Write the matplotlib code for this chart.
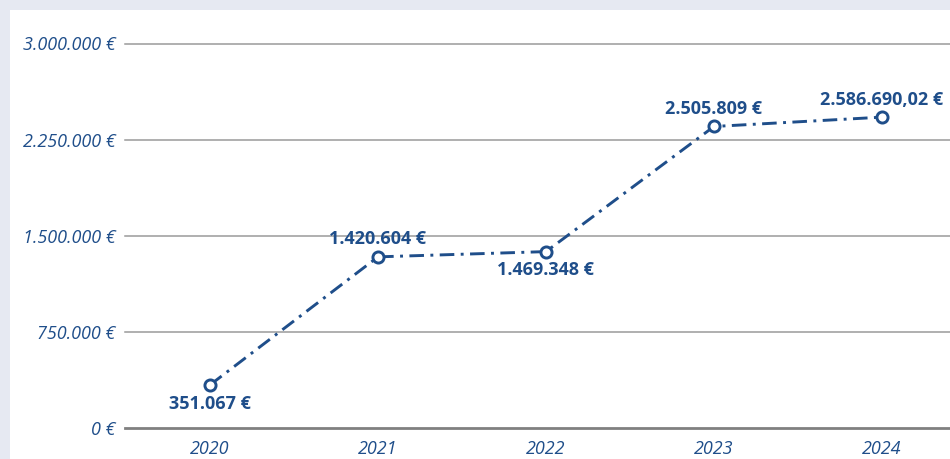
import matplotlib.pyplot as plt
from matplotlib.patches import Rectangle

# data
years = ['2020', '2021', '2022', '2023', '2024']
values = [334000, 1334000, 1375000, 2352000, 2425000]
value_labels = ['351.067 €', '1.420.604 €', '1.469.348 €', '2.505.809 €', '2.586.690,02 €']
label_above = [False, True, False, True, True]
yticks = [0, 750000, 1500000, 2250000, 3000000]
ytick_labels = ['0 €', '750.000 €', '1.500.000 €', '2.250.000 €', '3.000.000 €']

blue = '#1f4e8a'
W, H = 950, 459

fig = plt.figure(figsize=(9.5, 4.59), dpi=100)
fig.patch.set_facecolor('#e6e9f2')
# white panel behind the chart
fig.add_artist(Rectangle((10 / W, 0), 1, 1 - 10 / H, transform=fig.transFigure,
                         facecolor='white', edgecolor='none', zorder=-10))

ax = fig.add_axes([125 / W, (H - 427.7) / H, 1 - 125 / W, (427.7 - 43.5) / H])
ax.set_facecolor('none')
x = list(range(len(years)))
ax.set_xlim(-0.506, 4.405)
ax.set_ylim(0, 3000000)

for t in yticks[1:]:
    ax.axhline(t, color='#9a9a9a', lw=1.1, zorder=1, clip_on=False)
ax.axhline(0, color='#808080', lw=2, zorder=1, clip_on=False)

ax.plot(x, values, color=blue, lw=2.1, dashes=(5, 2.2, 1, 2.2), zorder=3, clip_on=False)
ax.plot(x, values, 'o', ms=8, mfc='white', mec=blue, mew=2.1, zorder=4, clip_on=False)

for xi, v, lab, up in zip(x, values, value_labels, label_above):
    ax.annotate(lab, (xi, v), xytext=(0, 12.5 if up else -13.5), textcoords='offset points',
                ha='center', va='center', fontsize=13, fontweight='bold',
                color=blue, family='Open Sans')

ax.set_yticks(yticks)
ax.set_yticklabels(ytick_labels)
ax.set_xticks(x)
ax.set_xticklabels(years)
ax.tick_params(length=0)
ax.tick_params(axis='y', pad=7)
ax.tick_params(axis='x', pad=9)
for lab in ax.get_xticklabels() + ax.get_yticklabels():
    lab.set_fontstyle('italic')
    lab.set_fontsize(13)
    lab.set_color(blue)
    lab.set_family('Open Sans')

for s in ax.spines.values():
    s.set_visible(False)

fig.savefig('out.png', dpi=100)
